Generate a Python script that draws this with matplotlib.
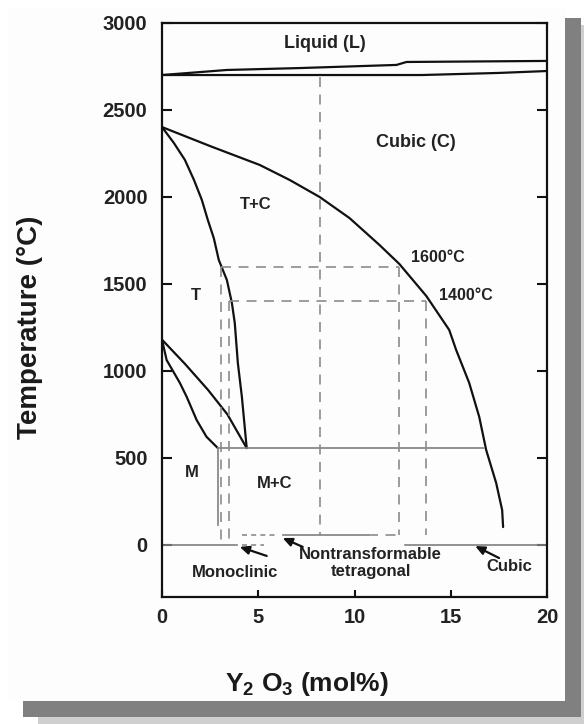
import matplotlib
matplotlib.use("Agg")
import matplotlib.pyplot as plt
from matplotlib.patches import Rectangle

plt.rcParams['font.family'] = ['Liberation Sans', 'DejaVu Sans']
plt.rcParams['font.weight'] = 'bold'
plt.rcParams['mathtext.fontset'] = 'custom'
plt.rcParams['mathtext.rm'] = 'Liberation Sans'
plt.rcParams['mathtext.it'] = 'Liberation Sans:italic'
plt.rcParams['mathtext.bf'] = 'Liberation Sans:bold'

# ---------------- data (mol% Y2O3, temperature degC) ----------------
liquidus_x = [0, 3.37, 7.15, 12.18, 12.7, 20]
liquidus_y = [2701, 2730, 2741, 2759, 2776, 2782]
solidus_x = [0, 13.5, 17.5, 20]
solidus_y = [2701, 2701, 2713, 2724]

cubic_x = [0, 2.49, 5.08, 6.63, 8.19, 9.74, 11.30, 12.33, 13.73, 14.92, 15.28,
           15.96, 16.48, 16.84, 17.36, 17.67, 17.72]
cubic_y = [2402, 2293, 2184, 2098, 2000, 1879, 1724, 1615, 1431, 1236, 1121,
           931, 736, 546, 356, 201, 103]

tet_x = [0, 0.62, 1.19, 1.66, 2.07, 2.38, 2.69, 2.95, 3.37, 3.63, 3.78, 3.94, 4.15, 4.40]
tet_y = [2402, 2310, 2213, 2098, 1983, 1868, 1764, 1638, 1523, 1391, 1276, 1046, 851, 557]

mt_upper_x = [0, 1.2, 2.4, 3.4, 4.4]
mt_upper_y = [1180, 1040, 890, 750, 557]
mt_lower_x = [0, 0.24, 0.93, 1.28, 1.80, 2.31, 2.90]
mt_lower_y = [1180, 1063, 931, 852, 718, 622, 557]

eutectoid_x = [2.9, 16.75]
eutectoid_T = 557
mono_limit_x = 2.9
mono_limit_y = [557, 115]

isotherm_T = [1600, 1400]
isotherm_x0 = [3.06, 3.5]
isotherm_x1 = [12.33, 13.7]
drop_x = [3.06, 3.47, 12.33, 13.7]
drop_top = [1600, 1400, 1600, 1400]
drop_bottom = [0, 0, 55, 55]
marker8_x = 8.2
marker8_y = [2690, 55]

rt_T = 0
rt_solid = [(0, 3.9), (12.6, 20)]
rt2_T = 55
rt2_solid = (6.3, 10.7)
rt2_dashed = (10.7, 12.33)
rt2_dotted = (4.15, 6.0)
rt_dotted = (4.15, 5.3)

x_ticks = [0, 5, 10, 15, 20]
y_ticks = [0, 500, 1000, 1500, 2000, 2500, 3000]
xlim = (0, 20)
ylim = (-299, 3000)

labels = [
    ("Liquid (L)", 8.45, 2885, 13, 'center'),
    ("Cubic (C)", 13.2, 2316, 13, 'center'),
    ("T+C", 4.87, 1954, 12, 'center'),
    ("T", 1.76, 1431, 12, 'center'),
    ("1600\u00b0C", 12.95, 1655, 11.5, 'left'),
    ("1400\u00b0C", 14.4, 1431, 11.5, 'left'),
    ("M", 1.55, 414, 12, 'center'),
    ("M+C", 5.85, 356, 12, 'center'),
    ("Monoclinic", 3.78, -161, 12, 'center'),
    ("Nontransformable\ntetragonal", 10.83, -103, 12, 'center'),
    ("Cubic", 18.03, -126, 12, 'center'),
]
arrows = [  # (tail x, tail y, head x, head y)
    (5.44, -63, 4.04, -11),
    (7.31, -11, 6.27, 40),
    (17.51, -75, 16.27, -6),
]

# ---------------- figure ----------------
W, H = 584, 724
fig = plt.figure(figsize=(W / 100, H / 100), dpi=100)
fig.patch.set_facecolor('white')

def px_rect(x0, y0, x1, y1, color, z):
    fig.patches.append(Rectangle((x0 / W, 1 - y1 / H), (x1 - x0) / W, (y1 - y0) / H,
                                 transform=fig.transFigure, facecolor=color,
                                 edgecolor='none', zorder=z))

px_rect(38, 716, 584, 724, '#cfcfcf', 0)
px_rect(580, 25, 584, 724, '#cfcfcf', 0)
px_rect(23, 18, 581, 717, '#808080', 1)
px_rect(8, 8, 565, 701, '#fdfdfd', 2)

ax = fig.add_axes([162 / W, 1 - 597 / H, (547 - 162) / W, (597 - 23) / H])
ax.set_facecolor('none')
ax.set_zorder(5)

black = '#111111'
gray = '#7f7f7f'
dgray = '#8c8c8c'
dash = (0, (6, 4.5))

curve_kw = dict(color=black, lw=1.6, solid_joinstyle='round', solid_capstyle='round')
ax.plot(liquidus_x, liquidus_y, **curve_kw)
ax.plot(solidus_x, solidus_y, **curve_kw)
ax.plot(cubic_x, cubic_y, **curve_kw)
ax.plot(tet_x, tet_y, **curve_kw)
ax.plot(mt_upper_x, mt_upper_y, **curve_kw)
ax.plot(mt_lower_x, mt_lower_y, **curve_kw)

ax.plot(eutectoid_x, [eutectoid_T, eutectoid_T], color=gray, lw=1.2)
ax.plot([mono_limit_x, mono_limit_x], mono_limit_y, color=gray, lw=1.2)

for T, a, b in zip(isotherm_T, isotherm_x0, isotherm_x1):
    ax.plot([a, b], [T, T], color=dgray, lw=1.2, linestyle=dash)
for x, t, bt in zip(drop_x, drop_top, drop_bottom):
    ax.plot([x, x], [t, bt], color=dgray, lw=1.2, linestyle=dash)
ax.plot([marker8_x, marker8_x], marker8_y, color=dgray, lw=1.2, linestyle=dash)

for a, b in rt_solid:
    ax.plot([a, b], [rt_T, rt_T], color=gray, lw=1.2)
ax.plot(rt2_solid, [rt2_T, rt2_T], color=gray, lw=1.2)
ax.plot(rt2_dashed, [rt2_T, rt2_T], color=dgray, lw=1.2, linestyle=dash)
ax.plot(rt2_dotted, [rt2_T, rt2_T], color=dgray, lw=1.2, linestyle=(0, (3, 2.5)))
ax.plot(rt_dotted, [rt_T, rt_T], color=dgray, lw=1.2, linestyle=(0, (3, 2.5)))

for txt, x, y, fs, ha in labels:
    ax.text(x, y, txt, fontsize=fs, fontweight='bold', ha=ha, va='center',
            color='#222222', linespacing=1.15)

for tx, ty, hx, hy in arrows:
    ax.annotate('', xy=(hx, hy), xytext=(tx, ty),
                arrowprops=dict(arrowstyle='-|>,head_length=0.55,head_width=0.25',
                                color=black, lw=1.6, shrinkA=0, shrinkB=0))

ax.set_xlim(*xlim)
ax.set_ylim(*ylim)
ax.set_xticks(x_ticks)
ax.set_yticks(y_ticks)
ax.tick_params(axis='both', direction='in', length=7, width=1.5, colors=black,
               labelsize=14.5, labelcolor='#222222')
ax.tick_params(axis='y', right=True, pad=10.5)
ax.tick_params(axis='x', pad=8, length=5)
for lab in ax.get_xticklabels() + ax.get_yticklabels():
    lab.set_fontweight('bold')
for sp in ax.spines.values():
    sp.set_linewidth(1.6)
    sp.set_color(black)

ax.set_ylabel('Temperature (\u00b0C)', fontsize=20, fontweight='bold', color='#1a1a1a')
ax.yaxis.set_label_coords((30 - 162) / 385, (597 - 327) / 574)
ax.yaxis.label.set_verticalalignment('center')
ax.set_xlabel(r'Y$_{2}$ O$_{3}$ (mol%)', fontsize=19, fontweight='bold', color='#1a1a1a')
ax.xaxis.set_label_coords((307 - 162) / 385, (597 - 684) / 574)
ax.xaxis.label.set_verticalalignment('center')

fig.savefig('out.png', dpi=100, facecolor=fig.get_facecolor())
